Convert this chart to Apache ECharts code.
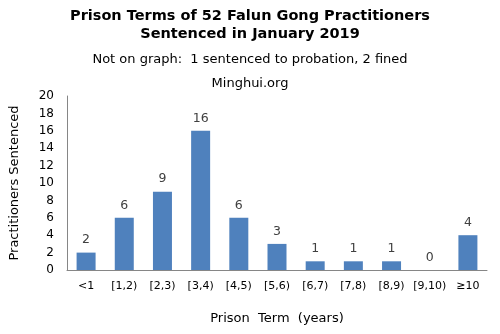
<!DOCTYPE html>
<html>
<head>
<meta charset="utf-8">
<script src="https://cdn.jsdelivr.net/npm/echarts@6/dist/echarts.min.js"></script>
<style>
  html, body { margin: 0; padding: 0; background: #fff; }
  #chart { width: 500px; height: 334px; }
</style>
</head>
<body>
<div id="chart"></div>
<script>
// Prison term buckets (years) and number of practitioners in each
const categories = ['<1', '[1,2)', '[2,3)', '[3,4)', '[4,5)', '[5,6)', '[6,7)', '[7,8)', '[8,9)', '[9,10)', '≥10'];
const counts = [2, 6, 9, 16, 6, 3, 1, 1, 1, 0, 4];
const yTicks = { min: 0, max: 20, interval: 2 };

const FONT = "'DejaVu Sans', Verdana, sans-serif";
const chart = echarts.init(document.getElementById('chart'), null, { renderer: 'canvas' });

chart.setOption({
  backgroundColor: '#ffffff',
  animation: false,
  title: [
    {
      text: 'Prison Terms of 52 Falun Gong Practitioners\nSentenced in January 2019',
      left: 'center', top: 2,
      textStyle: { fontFamily: FONT, fontSize: 14.5, fontWeight: 'bold', color: '#000', lineHeight: 18 }
    },
    {
      text: 'Not on graph:  1 sentenced to probation, 2 fined',
      left: 'center', top: 48,
      textStyle: { fontFamily: FONT, fontSize: 13, fontWeight: 'normal', color: '#000' }
    },
    {
      text: 'Minghui.org',
      left: 'center', top: 72,
      textStyle: { fontFamily: FONT, fontSize: 13, fontWeight: 'normal', color: '#000' }
    }
  ],
  grid: { left: 66, right: 13, top: 96, bottom: 64, containLabel: false },
  xAxis: {
    type: 'category',
    data: categories,
    name: 'Prison  Term  (years)',
    nameLocation: 'middle',
    nameGap: 42,
    nameTextStyle: { fontFamily: FONT, fontSize: 13, color: '#000' },
    axisLine: { lineStyle: { color: '#868686', width: 1 } },
    axisTick: { show: false },
    axisLabel: { fontFamily: FONT, fontSize: 11, color: '#000', margin: 11, interval: 0 }
  },
  yAxis: {
    type: 'value',
    min: yTicks.min, max: yTicks.max, interval: yTicks.interval,
    name: 'Practitioners Sentenced',
    nameLocation: 'middle',
    nameGap: 46,
    nameTextStyle: { fontFamily: FONT, fontSize: 13, color: '#000' },
    axisLine: { show: true, lineStyle: { color: '#868686', width: 1 } },
    axisTick: { show: false },
    splitLine: { show: false },
    axisLabel: { fontFamily: FONT, fontSize: 12, color: '#000', margin: 13 }
  },
  series: [{
    type: 'bar',
    data: counts,
    barWidth: 19,
    itemStyle: { color: '#4F81BD' },
    label: {
      show: true, position: 'top', distance: 6,
      fontFamily: FONT, fontSize: 12.5, color: '#404040'
    }
  }]
});
</script>
</body>
</html>
